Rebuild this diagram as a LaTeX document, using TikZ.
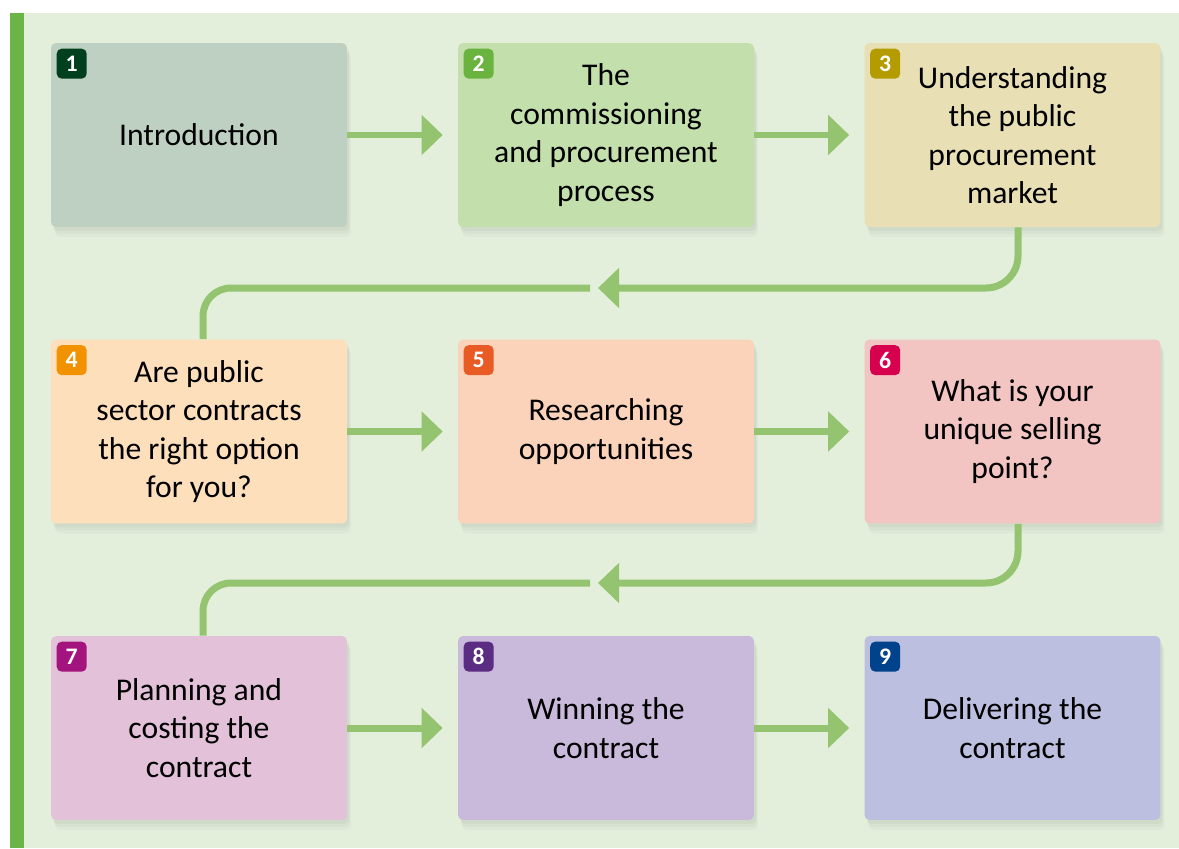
\documentclass[tikz,border=0pt]{standalone}
\usepackage{fontspec}
\setmainfont{Carlito}
\usetikzlibrary{arrows.meta,shadows}
\definecolor{bgreen}{HTML}{E3EFDB}
\definecolor{barcol}{HTML}{6AB545}
\definecolor{linkcol}{HTML}{94C46F}
\definecolor{fillA}{HTML}{BDD0C2}
\definecolor{fillB}{HTML}{C3DFAB}
\definecolor{fillC}{HTML}{E8DFB5}
\definecolor{fillD}{HTML}{FDDFBC}
\definecolor{fillE}{HTML}{FAD3BA}
\definecolor{fillF}{HTML}{F2C4C2}
\definecolor{fillG}{HTML}{E2C1D9}
\definecolor{fillH}{HTML}{C9BADB}
\definecolor{fillI}{HTML}{BCBFDF}
\definecolor{numA}{HTML}{00401E}
\definecolor{numB}{HTML}{6AB33E}
\definecolor{numC}{HTML}{B39B00}
\definecolor{numD}{HTML}{F39200}
\definecolor{numE}{HTML}{E85B24}
\definecolor{numF}{HTML}{D6004F}
\definecolor{numG}{HTML}{A4147E}
\definecolor{numH}{HTML}{5A2C83}
\definecolor{numI}{HTML}{00438C}
\tikzset{
 stage/.style={rounded corners=0.1cm,minimum width=5.92cm,minimum height=3.68cm,
   align=center,inner sep=0pt,font=\fontsize{18}{21.9}\selectfont,
   drop shadow={opacity=0.05,shadow xshift=0.08cm,shadow yshift=-0.2cm},
   drop shadow={opacity=0.06,shadow xshift=0.06cm,shadow yshift=-0.14cm},
   drop shadow={opacity=0.08,shadow xshift=0.04cm,shadow yshift=-0.08cm}},
 badge/.style={rounded corners=0.1cm,minimum size=0.6cm,inner sep=0pt,
   text=white,font=\bfseries\fontsize{13.5}{13.5}\selectfont},
 link/.style={draw=linkcol,line width=0.14cm},
 flow/.style={link,-{Triangle[width=0.78cm,length=0.42cm]},shorten >=0.3cm},
 back/.style={link,-{Triangle[width=0.78cm,length=0.42cm]},rounded corners=0.64cm}
}
\begin{document}
\begin{tikzpicture}[x=0.02cm,y=-0.02cm]
 \useasboundingbox (0,0) rectangle (1179,848);
 \fill[white] (0,0) rectangle (1179,848);
 \fill[bgreen] (10,13) rectangle (1179,848);
 \fill[barcol] (10,13) rectangle (24,848);
 \node[stage,fill=fillA] (b1) at (199,135) {Introduction};
 \node[stage,fill=fillB] (b2) at (606,135) {The\\commissioning\\and procurement\\process};
 \node[stage,fill=fillC] (b3) at (1012.5,135) {Understanding\\the public\\procurement\\market};
 \node[stage,fill=fillD] (b4) at (199,431.5) {Are public\\sector contracts\\the right option\\for you?};
 \node[stage,fill=fillE] (b5) at (606,431.5) {Researching\\opportunities};
 \node[stage,fill=fillF] (b6) at (1012.5,431.5) {What is your\\unique selling\\point?};
 \node[stage,fill=fillG] (b7) at (199,728) {Planning and\\costing the\\contract};
 \node[stage,fill=fillH] (b8) at (606,728) {Winning the\\contract};
 \node[stage,fill=fillI] (b9) at (1012.5,728) {Delivering the\\contract};
 \node[badge,fill=numA] (n1) at ([shift={(21,21)}]b1.north west) {1};
 \node[badge,fill=numB] (n2) at ([shift={(21,21)}]b2.north west) {2};
 \node[badge,fill=numC] (n3) at ([shift={(21,21)}]b3.north west) {3};
 \node[badge,fill=numD] (n4) at ([shift={(21,21)}]b4.north west) {4};
 \node[badge,fill=numE] (n5) at ([shift={(21,21)}]b5.north west) {5};
 \node[badge,fill=numF] (n6) at ([shift={(21,21)}]b6.north west) {6};
 \node[badge,fill=numG] (n7) at ([shift={(21,21)}]b7.north west) {7};
 \node[badge,fill=numH] (n8) at ([shift={(21,21)}]b8.north west) {8};
 \node[badge,fill=numI] (n9) at ([shift={(21,21)}]b9.north west) {9};
 \draw[flow] (b1) -- (b2);
 \draw[flow] (b2) -- (b3);
 \draw[flow] (b4) -- (b5);
 \draw[flow] (b5) -- (b6);
 \draw[flow] (b7) -- (b8);
 \draw[flow] (b8) -- (b9);
 \coordinate (t1) at (598,288);
 \coordinate (u1) at (590,288);
 \coordinate (t2) at (598,583);
 \coordinate (u2) at (590,583);
 \draw[back] ([xshift=0.11cm]b3.south) |- (t1);
 \draw[link,rounded corners=0.56cm] (u1) -| ([xshift=0.08cm]b4.north);
 \draw[back] ([xshift=0.11cm]b6.south) |- (t2);
 \draw[link,rounded corners=0.56cm] (u2) -| ([xshift=0.08cm]b7.north);
\end{tikzpicture}
\end{document}
